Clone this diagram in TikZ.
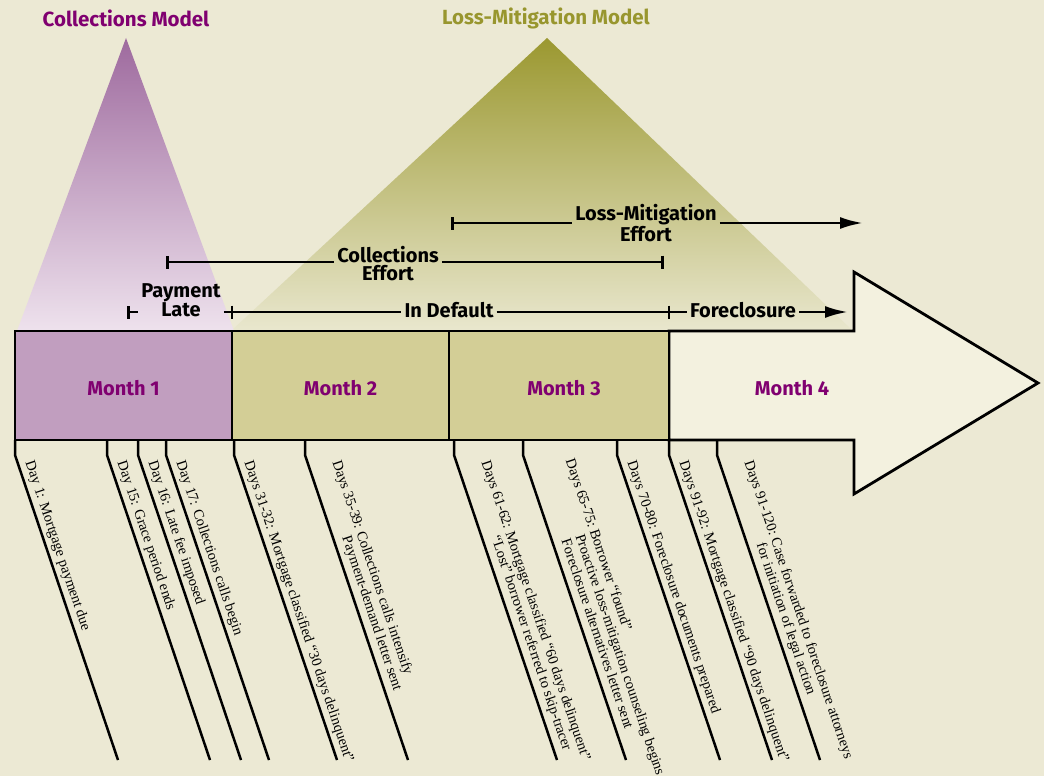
\documentclass[tikz,border=0pt]{standalone}
\usepackage{fontspec}
\setmainfont{Liberation Serif}
\setsansfont{Fira Sans}
\usetikzlibrary{arrows.meta,positioning}
\definecolor{paper}{RGB}{236,233,212}
\definecolor{plum}{RGB}{128,0,112}
\definecolor{mauve}{RGB}{193,158,191}
\definecolor{mossbox}{RGB}{211,206,150}
\definecolor{moss}{RGB}{152,150,46}
\definecolor{cream}{RGB}{243,241,223}
\definecolor{plumtop}{RGB}{158,106,158}
\definecolor{plumbot}{RGB}{238,226,237}
\definecolor{mosstop}{RGB}{155,152,48}
\definecolor{mossbot}{RGB}{233,231,206}

\begin{document}
\begin{tikzpicture}[x=1pt,y=-1pt,>=Latex]
\tikzstyle{mlabel}=[font=\sffamily\bfseries\fontsize{20}{20}\selectfont,text=plum]
\tikzstyle{month}=[mlabel,draw,line width=2.8pt,outer sep=0pt,inner sep=0pt,minimum height=109pt,text height=19pt,text depth=0pt]
\tikzstyle{model}=[font=\sffamily\bfseries\fontsize{20.5}{21}\selectfont]
\tikzstyle{phase}=[align=center,inner sep=3pt,font=\sffamily\bfseries\fontsize{20}{18}\selectfont]
\tikzstyle{span}=[line width=2.8pt]
\tikzstyle{lead}=[line width=2.5pt]
\tikzstyle{event}=[sloped,anchor=south west,inner sep=3pt,font=\fontsize{14.5}{15}\selectfont]
\tikzstyle{tip}=[-{Latex[length=23pt,width=12pt]}]
\tikzstyle{bar}=[{Bar[width=13pt]}-]
\fill[paper] (0,0) rectangle (1044,776);
\useasboundingbox (0,0) rectangle (1044,776);

% the two models
\shade[top color=mosstop,bottom color=mossbot] (231,331) -- (547,38) -- (853,331) -- cycle;
\shade[top color=plumtop,bottom color=plumbot] (17,331) -- (126,38) -- (234,331) -- cycle;
\node[model,text=plum] (CM) at (126,18) {Collections Model};
\node[model,text=moss] (LM) at (546,18) {Loss-Mitigation Model};

% months
\draw[line width=2.8pt,fill=cream] (669,331) -- (854,331) -- (854,272) -- (1038,383)
  -- (854,494) -- (854,440) -- (669,440) -- cycle;
\node[month,fill=mauve,minimum width=217pt] (M1) at (123.5,385.5) {Month 1};
\node[month,fill=mossbox,minimum width=217pt,right=0pt of M1] (M2) {Month 2};
\node[month,fill=mossbox,minimum width=220pt,right=0pt of M2] (M3) {\hspace*{10pt}Month 3};
\node[mlabel] (M4) at (792,388) {Month 4};

% phases
\coordinate (pl0) at (127,312); \coordinate (dl0) at (232,312);
\coordinate (fc0) at (669,312); \coordinate (fc1) at (848,312);
\node[phase] (PL) at (181,300) {Payment\\Late};
\node[phase] (ID) at (449,310) {In Default};
\node[phase] (FC) at (743,310) {Foreclosure};
\draw[span,bar] (pl0) -- (PL.west |- pl0);
\draw[span] (PL.east |- dl0) -- (ID.west |- dl0);
\draw[span] (ID.east |- dl0) -- (FC.west |- fc0);
\draw[span,tip] (FC.east |- fc0) -- (fc1);
\draw[span] (dl0) ++(0,-6.5) -- ++(0,13);
\draw[span] (fc0) ++(0,-6.5) -- ++(0,13);

\coordinate (ce0) at (166,262); \coordinate (ce1) at (664,262);
\node[phase] (CE) at (388,264) {Collections\\Effort};
\draw[span,bar] (ce0) -- (CE.west |- ce0);
\draw[span,-{Bar[width=13pt]}] (CE.east |- ce1) -- (ce1);

\coordinate (le0) at (451,223); \coordinate (le1) at (863,223);
\node[phase] (LE) at (646,223) {Loss-Mitigation\\Effort};
\draw[span,bar] (le0) -- (LE.west |- le0);
\draw[span,tip] (LE.east |- le0) -- (le1);

% events
\foreach \n/\x in {1/15,2/107,3/138,4/166,5/234,6/305,7/454,8/523,9/617,10/669,11/717}{
  \coordinate (t\n) at (\x,440); \coordinate (k\n) at (\x,455); \coordinate (e\n) at (\x+103,760);}
\draw[lead] (t1) -- (k1) -- node[event,pos=.02] (E1) {Day 1: Mortgage payment due} (e1);
\draw[lead] (t2) -- (k2) -- node[event,pos=.02] (E2) {Day 15: Grace period ends} (e2);
\draw[lead] (t3) -- (k3) -- node[event,pos=.02] (E3) {Day 16: Late fee imposed} (e3);
\draw[lead] (t4) -- (k4) -- node[event,pos=.02] (E4) {Day 17: Collections calls begin} (e4);
\draw[lead] (t5) -- (k5) -- node[event,pos=.02] (E5) {Days 31-32: Mortgage classified “30 days delinquent”} (e5);
\draw[lead] (t6) -- (k6) -- node[event,pos=.035] (E6) {\begin{tabular}{@{}l@{\ }l@{}}Days 35-39: &Collections calls intensify\\
  &Payment-demand letter sent\end{tabular}} (e6);
\draw[lead] (t7) -- (k7) -- node[event,pos=.035] (E7) {\begin{tabular}{@{}l@{\ }l@{}}Days 61-62: &Mortgage classified “60 days delinquent”\\
  &“Lost” borrower referred to skip-tracer\end{tabular}} (e7);
\draw[lead] (t8) -- (k8) -- node[event,pos=.045] (E8) {\begin{tabular}{@{}l@{\ }l@{}}Days 65-75: &Borrower “found”\\
  &Proactive loss-mitigation counseling begins\\ &Foreclosure alternatives letter sent\end{tabular}} (e8);
\draw[lead] (t9) -- (k9) -- node[event,pos=.02] (E9) {Days 70-80: Foreclosure documents prepared} (e9);
\draw[lead] (t10) -- (k10) -- node[event,pos=.02] (E10) {Days 91-92: Mortgage classified “90 days delinquent”} (e10);
\draw[lead] (t11) -- (k11) -- node[event,pos=.035] (E11) {\begin{tabular}{@{}l@{\ }l@{}}Days 91-120: &Case forwarded to foreclosure attorneys\\
  &for initiation of legal action\end{tabular}} (e11);
\end{tikzpicture}
\end{document}
